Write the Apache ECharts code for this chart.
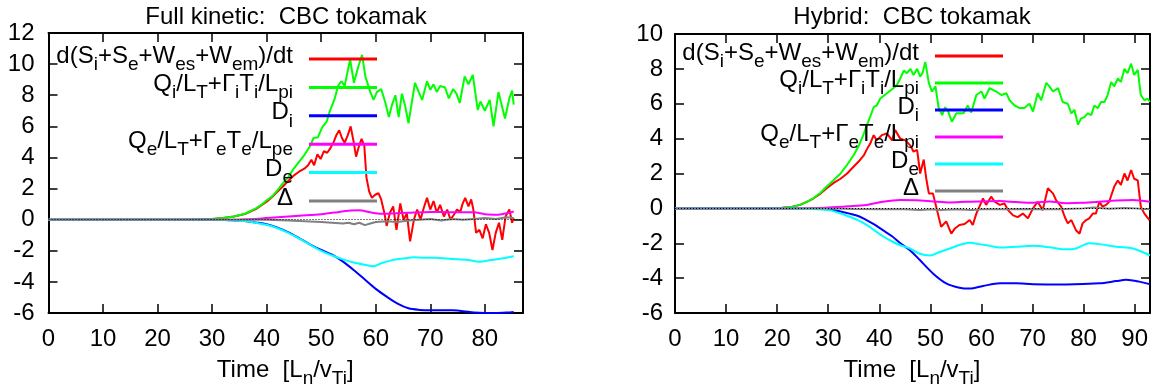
<!DOCTYPE html>
<html><head><meta charset="utf-8">
<script src="https://cdn.jsdelivr.net/npm/echarts@6/dist/echarts.min.js"></script>
<style>html,body{margin:0;padding:0;background:#fff}#c{width:1162px;height:389px}</style>
</head><body><div id="c"></div>
<script>
// ---------------- data ----------------
const titleL = 'Full kinetic:  CBC tokamak';
const titleR = 'Hybrid:  CBC tokamak';
const xLabel = 'Time  [L_{n}/v_{Ti}]';
const namesL = ['d(Si+Se+Wes+Wem)/dt', 'Qi/LT+ΓiTi/Lpi', 'Di', 'Qe/LT+ΓeTe/Lpe', 'De', 'Δ'];
const namesR = ['d(Si+Se+Wes+Wem)/dt', 'Qi/LT+ΓiTi/Lpi', 'Di', 'Qe/LT+ΓeTe/Lpi', 'De', 'Δ'];
const legendMarkup = {
  'd(Si+Se+Wes+Wem)/dt': 'd(S_{i}+S_{e}+W_{es}+W_{em})/dt',
  'Qi/LT+ΓiTi/Lpi': 'Q_{i}/L_{T}+Γ_{i}T_{i}/L_{pi}',
  'Di': 'D_{i}',
  'Qe/LT+ΓeTe/Lpe': 'Q_{e}/L_{T}+Γ_{e}T_{e}/L_{pe}',
  'Qe/LT+ΓeTe/Lpi': 'Q_{e}/L_{T}+Γ_{e}T_{e}/L_{pi}',
  'De': 'D_{e}',
  'Δ': 'Δ'
};
const xMaxL = 87, xMaxR = 93;
const yMinL = -6, yMaxL = 12, yMinR = -6, yMaxR = 10;

// Left panel (full kinetic): [time, value]
const redL = [[0,0],[26,0],[28,0.02],[30,0.05],[32,0.1],[34,0.2],[36,0.36],[38,0.68],[40,1.15],[41,1.45],[42,1.8],[43,2.15],[44,2.5],[45,2.85],[46,3.1],[47,3.3],[47.6,3.5],[48.2,3.85],[48.7,3.5],[49.3,4.2],[49.9,3.9],[50.5,4.4],[51.1,4.3],[51.7,4.6],[52.3,5.0],[52.8,5.45],[53.3,5.75],[53.8,5.25],[54.3,4.95],[54.8,5.35],[55.4,6.0],[55.9,5.1],[56.4,4.05],[56.9,4.7],[57.4,5.2],[57.9,4.75],[58.3,2.7],[58.8,1.8],[59.3,1.4],[59.9,1.6],[60.5,1.7],[61,1.3],[61.6,0.4],[62,-0.4],[62.6,0.45],[63.2,0.85],[63.8,-0.65],[64.5,1.05],[65.1,0],[65.7,0.4],[66.3,-1.4],[67,0],[67.6,0.65],[68.2,0],[68.8,0.75],[69.4,1.4],[70,0.65],[70.6,1.2],[71.2,0.45],[71.8,0.95],[72.5,0.2],[73.1,0.65],[73.7,0],[74.3,0.3],[74.9,0.65],[75.5,0.5],[75.9,1.0],[76.4,1.4],[77,0.85],[77.5,1.3],[77.9,0.65],[78.4,-0.85],[79,-0.65],[79.6,-1.2],[80.2,-0.3],[80.8,-0.85],[81.4,-1.95],[82,-0.85],[82.6,-0.2],[83.2,-1.3],[83.8,0.2],[84.5,0.65],[85,-0.2],[85.3,0.1]];
const greenL = [[0,0],[26,0],[28,0.02],[30,0.05],[32,0.1],[34,0.2],[36,0.38],[38,0.72],[39,0.95],[40,1.25],[41,1.5],[42,1.9],[43,2.35],[44,2.75],[45,3.3],[46,3.75],[47,4.2],[48,4.75],[48.6,5.25],[49.4,5.3],[50.2,5.95],[51,6.3],[51.6,7.0],[52.4,7.7],[53.1,8.6],[53.7,8.9],[54.3,8.6],[55.3,10.3],[56,8.8],[56.8,9.85],[57.5,10.6],[58.1,9.2],[59,8.2],[59.6,7.7],[60.2,8.2],[61,8.4],[61.7,7.6],[62.4,6.6],[63,7.4],[63.6,8.0],[64.2,6.6],[64.8,8.1],[65.4,7.3],[66,6.2],[66.6,7.5],[67.2,8.8],[67.9,8.2],[68.5,7.7],[69.4,8.9],[70,8.35],[70.6,8.7],[71.2,8.2],[71.8,8.6],[72.7,8.5],[73.4,7.8],[74.2,8.4],[74.8,8.1],[75.4,7.5],[76.3,9.2],[77,8.7],[77.8,9.3],[78.7,7.05],[79.2,7.6],[80,7.0],[80.9,7.7],[81.6,6.0],[82.5,8.2],[83.7,6.5],[84.5,7.8],[85,8.3],[85.3,7.4]];
const blueL = [[0,0],[30,0],[33,-0.03],[36,-0.08],[38,-0.18],[40,-0.3],[42,-0.52],[44,-0.82],[46,-1.2],[48,-1.6],[50,-1.95],[52,-2.25],[54,-2.7],[56,-3.25],[58,-3.85],[60,-4.45],[62,-4.95],[64,-5.4],[66,-5.7],[68,-5.8],[70,-5.83],[72,-5.82],[74,-5.83],[76,-5.88],[78,-5.97],[80,-6.0],[82,-6.0],[84,-5.97],[85.3,-5.93]];
const magentaL = [[0,0],[34,0],[38,0.05],[42,0.15],[46,0.25],[50,0.35],[53,0.48],[55,0.58],[57,0.6],[59,0.47],[61,0.38],[63,0.4],[66,0.45],[70,0.5],[74,0.47],[78,0.47],[80,0.35],[82.5,0.32],[84.5,0.45],[85.3,0.52]];
const cyanL = [[0,0],[30,0],[33,-0.03],[36,-0.09],[38,-0.2],[40,-0.33],[42,-0.55],[44,-0.85],[46,-1.22],[48,-1.62],[50,-2.0],[52,-2.3],[54,-2.55],[56,-2.75],[58,-2.9],[59.5,-3.0],[61,-2.8],[63,-2.6],[65,-2.5],[67,-2.42],[69,-2.45],[71,-2.45],[73,-2.5],[75,-2.55],[77,-2.6],[79,-2.7],[81,-2.6],[83,-2.5],[85.3,-2.35]];
const grayL = [[0,0],[40,0],[44,-0.05],[47,-0.1],[50,-0.15],[52,-0.2],[54,-0.25],[55,-0.2],[56,-0.3],[57,-0.2],[58,-0.35],[59,-0.25],[60,-0.15],[62,-0.1],[64,-0.15],[66,-0.05],[68,0],[70,0.05],[72,-0.05],[74,0.05],[76,0],[78,0.05],[80,0.1],[82,0.05],[84,0.15],[85.3,0.1]];

// Right panel (hybrid): [time, value]
const redR = [[0,0],[19,0],[21,0.03],[23,0.1],[24.5,0.2],[26,0.4],[27,0.55],[28.5,0.85],[29.7,1.15],[31,1.45],[32.4,1.7],[33.7,2.0],[35,2.4],[36,2.7],[37,3.06],[37.6,3.4],[38.2,3.7],[38.9,4.2],[39.5,3.9],[40.5,4.2],[41.5,4.3],[42.5,3.9],[43.1,4.5],[44.1,4.0],[45.1,3.9],[46.1,3.6],[46.7,3.25],[47.4,3.35],[48,2.0],[48.7,2.8],[49.2,1.7],[49.7,0.86],[50.5,0.86],[51.3,-0.1],[52.1,-1.05],[53.1,-0.75],[54.1,-1.45],[54.8,-1.15],[55.7,-0.95],[56.7,-0.9],[57.7,-0.67],[58.3,-0.95],[59,-0.3],[59.6,0.1],[60.3,0.57],[60.9,0.2],[61.9,0.67],[62.6,0.38],[63.6,0.2],[64.5,0.28],[65.2,-0.1],[66.2,-0.4],[67.1,-0.5],[68.1,-0.3],[69.1,-0.57],[70.1,0],[71,0.38],[72,-0.1],[73,1.15],[74,0.86],[74.6,0.48],[75.6,0.1],[76.3,-0.48],[76.9,-0.86],[77.6,-0.67],[78.5,-1.25],[79.2,-1.45],[79.8,-0.86],[80.5,-0.67],[81.1,-0.57],[81.8,-0.3],[82.4,-0.3],[83.1,0.38],[83.7,0.1],[84.4,0.2],[85,0.38],[86,1.25],[86.7,1.6],[87.3,1.35],[88,2.0],[88.6,1.6],[89.3,2.2],[89.9,1.7],[90.6,1.6],[91.2,0.1],[91.9,-0.3],[92.9,-0.67]];
const greenR = [[0,0],[19,0],[21,0.03],[23,0.1],[24.5,0.2],[26,0.4],[27,0.57],[28.5,0.9],[29.7,1.25],[31,1.6],[32.4,2.0],[33.7,2.5],[35,3.06],[36,3.6],[37,4.3],[37.6,4.8],[38.2,5.25],[38.9,5.8],[39.5,5.9],[40.2,6.3],[41.5,6.6],[42.8,6.9],[43.5,7.1],[44.1,7.45],[44.8,7.9],[45.4,7.75],[46.1,8.0],[46.7,7.65],[47.4,8.0],[48,7.55],[48.5,7.8],[49,8.4],[49.7,7.2],[50.3,6.7],[51,7.0],[51.6,5.8],[52.3,5.35],[52.9,5.8],[53.5,5.55],[54.2,4.97],[55.1,5.45],[56.5,5.45],[57.3,5.9],[58,5.5],[59,6.5],[60,6.7],[60.6,6.3],[61.6,6.9],[62.9,6.7],[63.9,6.5],[64.9,6.6],[65.5,6.2],[66.5,5.9],[67.5,5.75],[68.4,5.75],[69.4,6.0],[70.1,5.55],[71,6.6],[71.7,6.2],[72.7,7.2],[73.3,7.0],[74,6.7],[75,6.9],[75.9,6.1],[76.9,6.0],[77.6,5.45],[78.2,5.65],[78.9,4.8],[79.5,5.15],[80.2,5.25],[80.8,5.45],[81.5,5.35],[82.1,5.9],[82.8,5.75],[83.4,6.1],[84.1,6.1],[84.7,6.5],[85.4,7.25],[86,7.0],[86.7,7.45],[87.3,7.25],[88,8.0],[88.6,7.75],[89.3,8.3],[89.9,7.65],[90.6,7.95],[91.2,6.5],[91.9,6.2],[92.5,6.3],[93,6.1]];
const blueR = [[0,0],[24,0],[28,-0.02],[30,-0.05],[32,-0.15],[34.2,-0.3],[36,-0.45],[37.5,-0.67],[39,-0.92],[40.7,-1.25],[42.5,-1.6],[44,-1.97],[46,-2.4],[47.9,-2.95],[50.5,-3.73],[53.1,-4.3],[55.7,-4.55],[57.7,-4.6],[60.3,-4.45],[63.6,-4.3],[66.8,-4.3],[70.1,-4.35],[76.6,-4.36],[83.1,-4.3],[86.4,-4.17],[88.3,-4.1],[90.9,-4.2],[93,-4.35]];
const magentaR = [[0,0],[25,0],[30,0.05],[34,0.12],[37.5,0.2],[40.7,0.38],[44,0.48],[47.3,0.46],[50.5,0.4],[53.8,0.34],[57,0.38],[60.3,0.4],[63.6,0.42],[66.8,0.36],[70.1,0.32],[73.3,0.4],[76.6,0.3],[79.8,0.32],[83.1,0.38],[86.4,0.45],[89.6,0.48],[93,0.38]];
const cyanR = [[0,0],[22,0],[26,-0.03],[30,-0.1],[32,-0.25],[34.2,-0.48],[36,-0.7],[37.5,-0.95],[39,-1.25],[40.7,-1.6],[42.5,-1.9],[44,-2.1],[46,-2.3],[47.9,-2.6],[49.9,-2.7],[51.8,-2.5],[53.8,-2.3],[55.7,-2.1],[57.7,-1.97],[59.6,-2.05],[61.6,-2.15],[63.6,-2.25],[66.8,-2.2],[70.1,-2.15],[73.3,-2.23],[76.6,-2.35],[78.5,-2.3],[81.1,-2.0],[83.1,-2.05],[86.4,-2.2],[89.6,-2.3],[91.5,-2.5],[93,-2.7]];
const grayR = [[0,0],[30,0],[35,-0.03],[40,-0.05],[45,-0.05],[48,-0.1],[50,-0.05],[52,-0.1],[55,-0.05],[58,-0.1],[60,-0.05],[65,-0.05],[70,-0.03],[75,-0.05],[80,0],[82,0.05],[85,-0.02],[88,0.02],[90,0],[93,-0.05]];

// ---------------- chart ----------------
const FONT = "'Liberation Sans', Arial, Helvetica, sans-serif";
const COLORS = ['#ff0000', '#00ff00', '#0000ff', '#ff00ff', '#00ffff', '#808080'];
const RICH = {
  m: {fontFamily: FONT, fontSize: 24, color: '#000', lineHeight: 26, verticalAlign: 'top'},
  s: {fontFamily: FONT, fontSize: 19, color: '#000', lineHeight: 16, verticalAlign: 'bottom'},
  g: {fontFamily: FONT, fontSize: 24, color: '#000', lineHeight: 30, width: 11},
  z: {fontFamily: FONT, fontSize: 24, color: '#000', lineHeight: 30, width: 1}
};
function toRich(str, gap) {
  let out = '', last = 0, m;
  const re = /_\{([^}]*)\}/g;
  while ((m = re.exec(str))) {
    if (m.index > last) out += '{m|' + str.slice(last, m.index) + '}';
    out += '{s|' + m[1] + '}';
    last = re.lastIndex;
  }
  if (last < str.length) out += '{m|' + str.slice(last) + '}';
  return out + '{' + gap + '| }';
}
function xAxisPair(grid, max) {
  const base = {gridIndex: grid, type: 'value', min: 0, max: max, interval: 10,
    axisLine: {onZero: false, lineStyle: {color: '#000', width: 2}},
    axisTick: {inside: true, length: 9, lineStyle: {color: '#000', width: 1.5}},
    splitLine: {show: false}};
  return [
    Object.assign({}, base, {position: 'bottom',
      axisLabel: {fontFamily: FONT, fontSize: 24, color: '#000', margin: 14,
        formatter: v => (v % 10 === 0 ? String(v) : '')},
      name: toRich(xLabel, 'z'), nameLocation: 'middle', nameGap: 45,
      nameTextStyle: {rich: RICH}}),
    Object.assign({}, base, {position: 'top', axisLabel: {show: false}})
  ];
}
function yAxisPair(grid, min, max, margin) {
  const base = {gridIndex: grid, type: 'value', min: min, max: max, interval: 2,
    axisLine: {onZero: false, lineStyle: {color: '#000', width: 2}},
    axisTick: {inside: true, length: 9, lineStyle: {color: '#000', width: 1.5}},
    splitLine: {show: false}};
  return [
    Object.assign({}, base, {position: 'left',
      axisLabel: {fontFamily: FONT, fontSize: 24, color: '#000', margin: margin}}),
    Object.assign({}, base, {position: 'right', axisLabel: {show: false}})
  ];
}
function mkSeries(name, data, color, xi, yi, smooth, zero) {
  const s = {type: 'line', name: name, data: data, xAxisIndex: xi, yAxisIndex: yi,
    showSymbol: false, symbol: 'none', smooth: smooth, animation: false,
    lineStyle: {color: color, width: 2}, itemStyle: {color: color},
    emphasis: {disabled: true}};
  if (zero) {
    s.markLine = {silent: true, symbol: ['none', 'none'], animation: false,
      label: {show: false}, lineStyle: {color: '#000', width: 1, type: [1, 2]},
      data: [{yAxis: 0}]};
  }
  return s;
}
const seriesL = [redL, greenL, blueL, magentaL, cyanL, grayL];
const seriesR = [redR, greenR, blueR, magentaR, cyanR, grayR];
const smoothFlags = [false, false, 0.3, 0.3, 0.3, false];
const series = [];
seriesL.forEach((d, i) => series.push(mkSeries(namesL[i], d, COLORS[i], 0, 0, smoothFlags[i], i === 0)));
seriesR.forEach((d, i) => series.push(mkSeries(namesR[i], d, COLORS[i], 2, 2, smoothFlags[i], i === 0)));

function legend(names, right, top, gap) {
  return {data: names, orient: 'vertical', align: 'right', right: right, top: top,
    padding: 0, itemGap: gap, itemWidth: 68, itemHeight: 3, icon: 'rect',
    itemStyle: {borderWidth: 0}, selectedMode: false,
    formatter: n => toRich(legendMarkup[n], 'g'),
    textStyle: {rich: RICH}};
}

const option = {
  animation: false,
  backgroundColor: '#fff',
  grid: [
    {left: 48.5, top: 33, width: 474.5, height: 280, containLabel: false, outerBoundsMode: 'none'},
    {left: 675, top: 34, width: 475, height: 279, containLabel: false, outerBoundsMode: 'none'}
  ],
  xAxis: [...xAxisPair(0, xMaxL), ...xAxisPair(1, xMaxR)],
  yAxis: [...yAxisPair(0, yMinL, yMaxL, 14), ...yAxisPair(1, yMinR, yMaxR, 12)],
  legend: [legend(namesL, 785, 44, -1.6), legend(namesR, 159, 41, -3)],
  graphic: [
    {type: 'text', x: 286, y: 17, style: {text: titleL, fontFamily: FONT, fontSize: 24, fill: '#000', align: 'center', verticalAlign: 'middle'}},
    {type: 'text', x: 912, y: 17, style: {text: titleR, fontFamily: FONT, fontSize: 24, fill: '#000', align: 'center', verticalAlign: 'middle'}}
  ],
  series: series
};
const chart = echarts.init(document.getElementById('c'), null, {renderer: 'canvas'});
chart.setOption(option);
</script></body></html>
